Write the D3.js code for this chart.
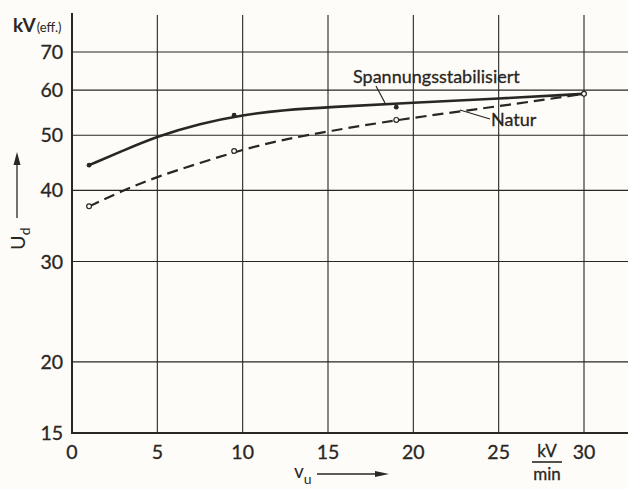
<!DOCTYPE html>
<html><head><meta charset="utf-8">
<script src="https://cdn.jsdelivr.net/npm/d3@7"></script>
<style>html,body{margin:0;padding:0;background:#fdfcf9;}svg{display:block;}</style>
</head><body>
<svg id="c" width="628" height="489"></svg>
<script>
// Data
const xTicks = [0, 5, 10, 15, 20, 25, 30];
const yTicks = [15, 20, 30, 40, 50, 60, 70];
// measured points
const stabX = [1, 9.5, 19, 30];
const stabY = [44.3, 54.2, 56.0, 59.1];
const naturX = [1, 9.5, 19, 30];
const naturY = [37.5, 46.9, 53.2, 59.1];
// smooth fitted curves
const stabCurveX = [1, 3, 5, 7.5, 10, 12.5, 15, 20, 25, 30];
const stabCurveY = [44.3, 47.0, 49.8, 52.4, 54.3, 55.4, 56.0, 57.0, 58.0, 59.1];
const naturCurveX = [1, 3, 5, 7.5, 10, 12.5, 15, 19, 25, 30];
const naturCurveY = [37.5, 40.0, 42.3, 44.7, 47.2, 49.2, 50.8, 53.2, 56.2, 59.1];

const svg = d3.select('#c');
const x = d3.scaleLinear().domain([0, 30]).range([72, 584]);
const y = d3.scaleLog().domain([15, 70]).range([433, 52]);
const ink = '#2a2622';
const font = 'Lato, "Open Sans", sans-serif';

// grid
svg.append('g').selectAll('line').data(yTicks.filter(d => d > 15)).join('line')
  .attr('x1', 72).attr('x2', 628).attr('y1', d => y(d)).attr('y2', d => y(d))
  .attr('stroke', ink).attr('stroke-width', 1.1);
svg.append('g').selectAll('line').data(xTicks.filter(d => d > 0)).join('line')
  .attr('x1', d => x(d)).attr('x2', d => x(d)).attr('y1', 15).attr('y2', 433)
  .attr('stroke', ink).attr('stroke-width', 1.1);
// axes lines
svg.append('line').attr('x1', 72).attr('x2', 72).attr('y1', 13).attr('y2', 434)
  .attr('stroke', ink).attr('stroke-width', 2);
svg.append('line').attr('x1', 71).attr('x2', 628).attr('y1', 433).attr('y2', 433)
  .attr('stroke', ink).attr('stroke-width', 2);

// tick labels
svg.append('g').selectAll('text').data(yTicks).join('text')
  .attr('x', 63).attr('y', d => y(d) + 7).attr('text-anchor', 'end')
  .attr('font-family', font).attr('font-size', 19.5).attr('fill', ink)
  .attr('stroke', ink).attr('stroke-width', 0.3).text(d => d);
svg.append('g').selectAll('text').data(xTicks).join('text')
  .attr('x', d => x(d)).attr('y', 459).attr('text-anchor', 'middle')
  .attr('font-family', font).attr('font-size', 19.5).attr('fill', ink)
  .attr('stroke', ink).attr('stroke-width', 0.3).text(d => d);

// unit labels
const kv = svg.append('text').attr('x', 13).attr('y', 32).attr('font-family', font).attr('fill', ink);
kv.append('tspan').attr('font-size', 19).attr('font-weight', 'bold').text('kV');
kv.append('tspan').attr('font-size', 13).attr('dx', 1).text('(eff.)');

svg.append('text').attr('x', 547).attr('y', 457).attr('text-anchor', 'middle')
  .attr('font-family', font).attr('font-size', 17).attr('fill', ink)
  .attr('stroke', ink).attr('stroke-width', 0.3).text('kV');
svg.append('line').attr('x1', 532).attr('x2', 562).attr('y1', 462).attr('y2', 462)
  .attr('stroke', ink).attr('stroke-width', 1.6);
svg.append('text').attr('x', 547).attr('y', 480).attr('text-anchor', 'middle')
  .attr('font-family', font).attr('font-size', 17).attr('fill', ink)
  .attr('stroke', ink).attr('stroke-width', 0.3).text('min');

// axis titles
const ud = svg.append('text').attr('transform', 'translate(25,250) rotate(-90)')
  .attr('font-family', font).attr('fill', ink);
ud.append('tspan').attr('font-size', 20).text('U');
ud.append('tspan').attr('font-size', 14).attr('dy', 5).text('d');
svg.append('line').attr('x1', 17).attr('x2', 17).attr('y1', 218).attr('y2', 162)
  .attr('stroke', ink).attr('stroke-width', 1.3);
svg.append('path').attr('d', 'M17,152 L13.5,165 L20.5,165 Z').attr('fill', ink);

const vu = svg.append('text').attr('x', 294).attr('y', 478).attr('font-family', font).attr('fill', ink);
vu.append('tspan').attr('font-size', 19).text('v');
vu.append('tspan').attr('font-size', 14).attr('dy', 6).text('u');
svg.append('line').attr('x1', 317).attr('x2', 378).attr('y1', 474).attr('y2', 474)
  .attr('stroke', ink).attr('stroke-width', 1.3);
svg.append('path').attr('d', 'M389,474 L375,471 L375,477 Z').attr('fill', ink);

// curves
const line = d3.line().x(d => x(d[0])).y(d => y(d[1])).curve(d3.curveBasis);
svg.append('path').datum(d3.zip(stabCurveX, stabCurveY)).attr('d', line)
  .attr('fill', 'none').attr('stroke', ink).attr('stroke-width', 2.6);
svg.append('path').datum(d3.zip(naturCurveX, naturCurveY)).attr('d', line)
  .attr('fill', 'none').attr('stroke', ink).attr('stroke-width', 2.2)
  .attr('stroke-dasharray', '11,6');

// points
svg.append('g').selectAll('circle').data(d3.zip(stabX, stabY)).join('circle')
  .attr('cx', d => x(d[0])).attr('cy', d => y(d[1])).attr('r', 2.4).attr('fill', ink);
svg.append('g').selectAll('circle').data(d3.zip(naturX, naturY)).join('circle')
  .attr('cx', d => x(d[0])).attr('cy', d => y(d[1])).attr('r', 2.4)
  .attr('fill', '#fdfcf9').attr('stroke', ink).attr('stroke-width', 1.2);

// series labels
svg.append('text').attr('x', 353).attr('y', 83).attr('font-family', font).attr('font-size', 18)
  .attr('fill', ink).attr('stroke', ink).attr('stroke-width', 0.3).text('Spannungsstabilisiert');
svg.append('line').attr('x1', 376).attr('y1', 86).attr('x2', 385).attr('y2', 103)
  .attr('stroke', ink).attr('stroke-width', 1.2);
svg.append('text').attr('x', 491).attr('y', 126).attr('font-family', font).attr('font-size', 18)
  .attr('fill', ink).attr('stroke', ink).attr('stroke-width', 0.3).text('Natur');
svg.append('line').attr('x1', 460).attr('y1', 110).attr('x2', 490).attr('y2', 119)
  .attr('stroke', ink).attr('stroke-width', 1.2);
</script>
</body></html>
